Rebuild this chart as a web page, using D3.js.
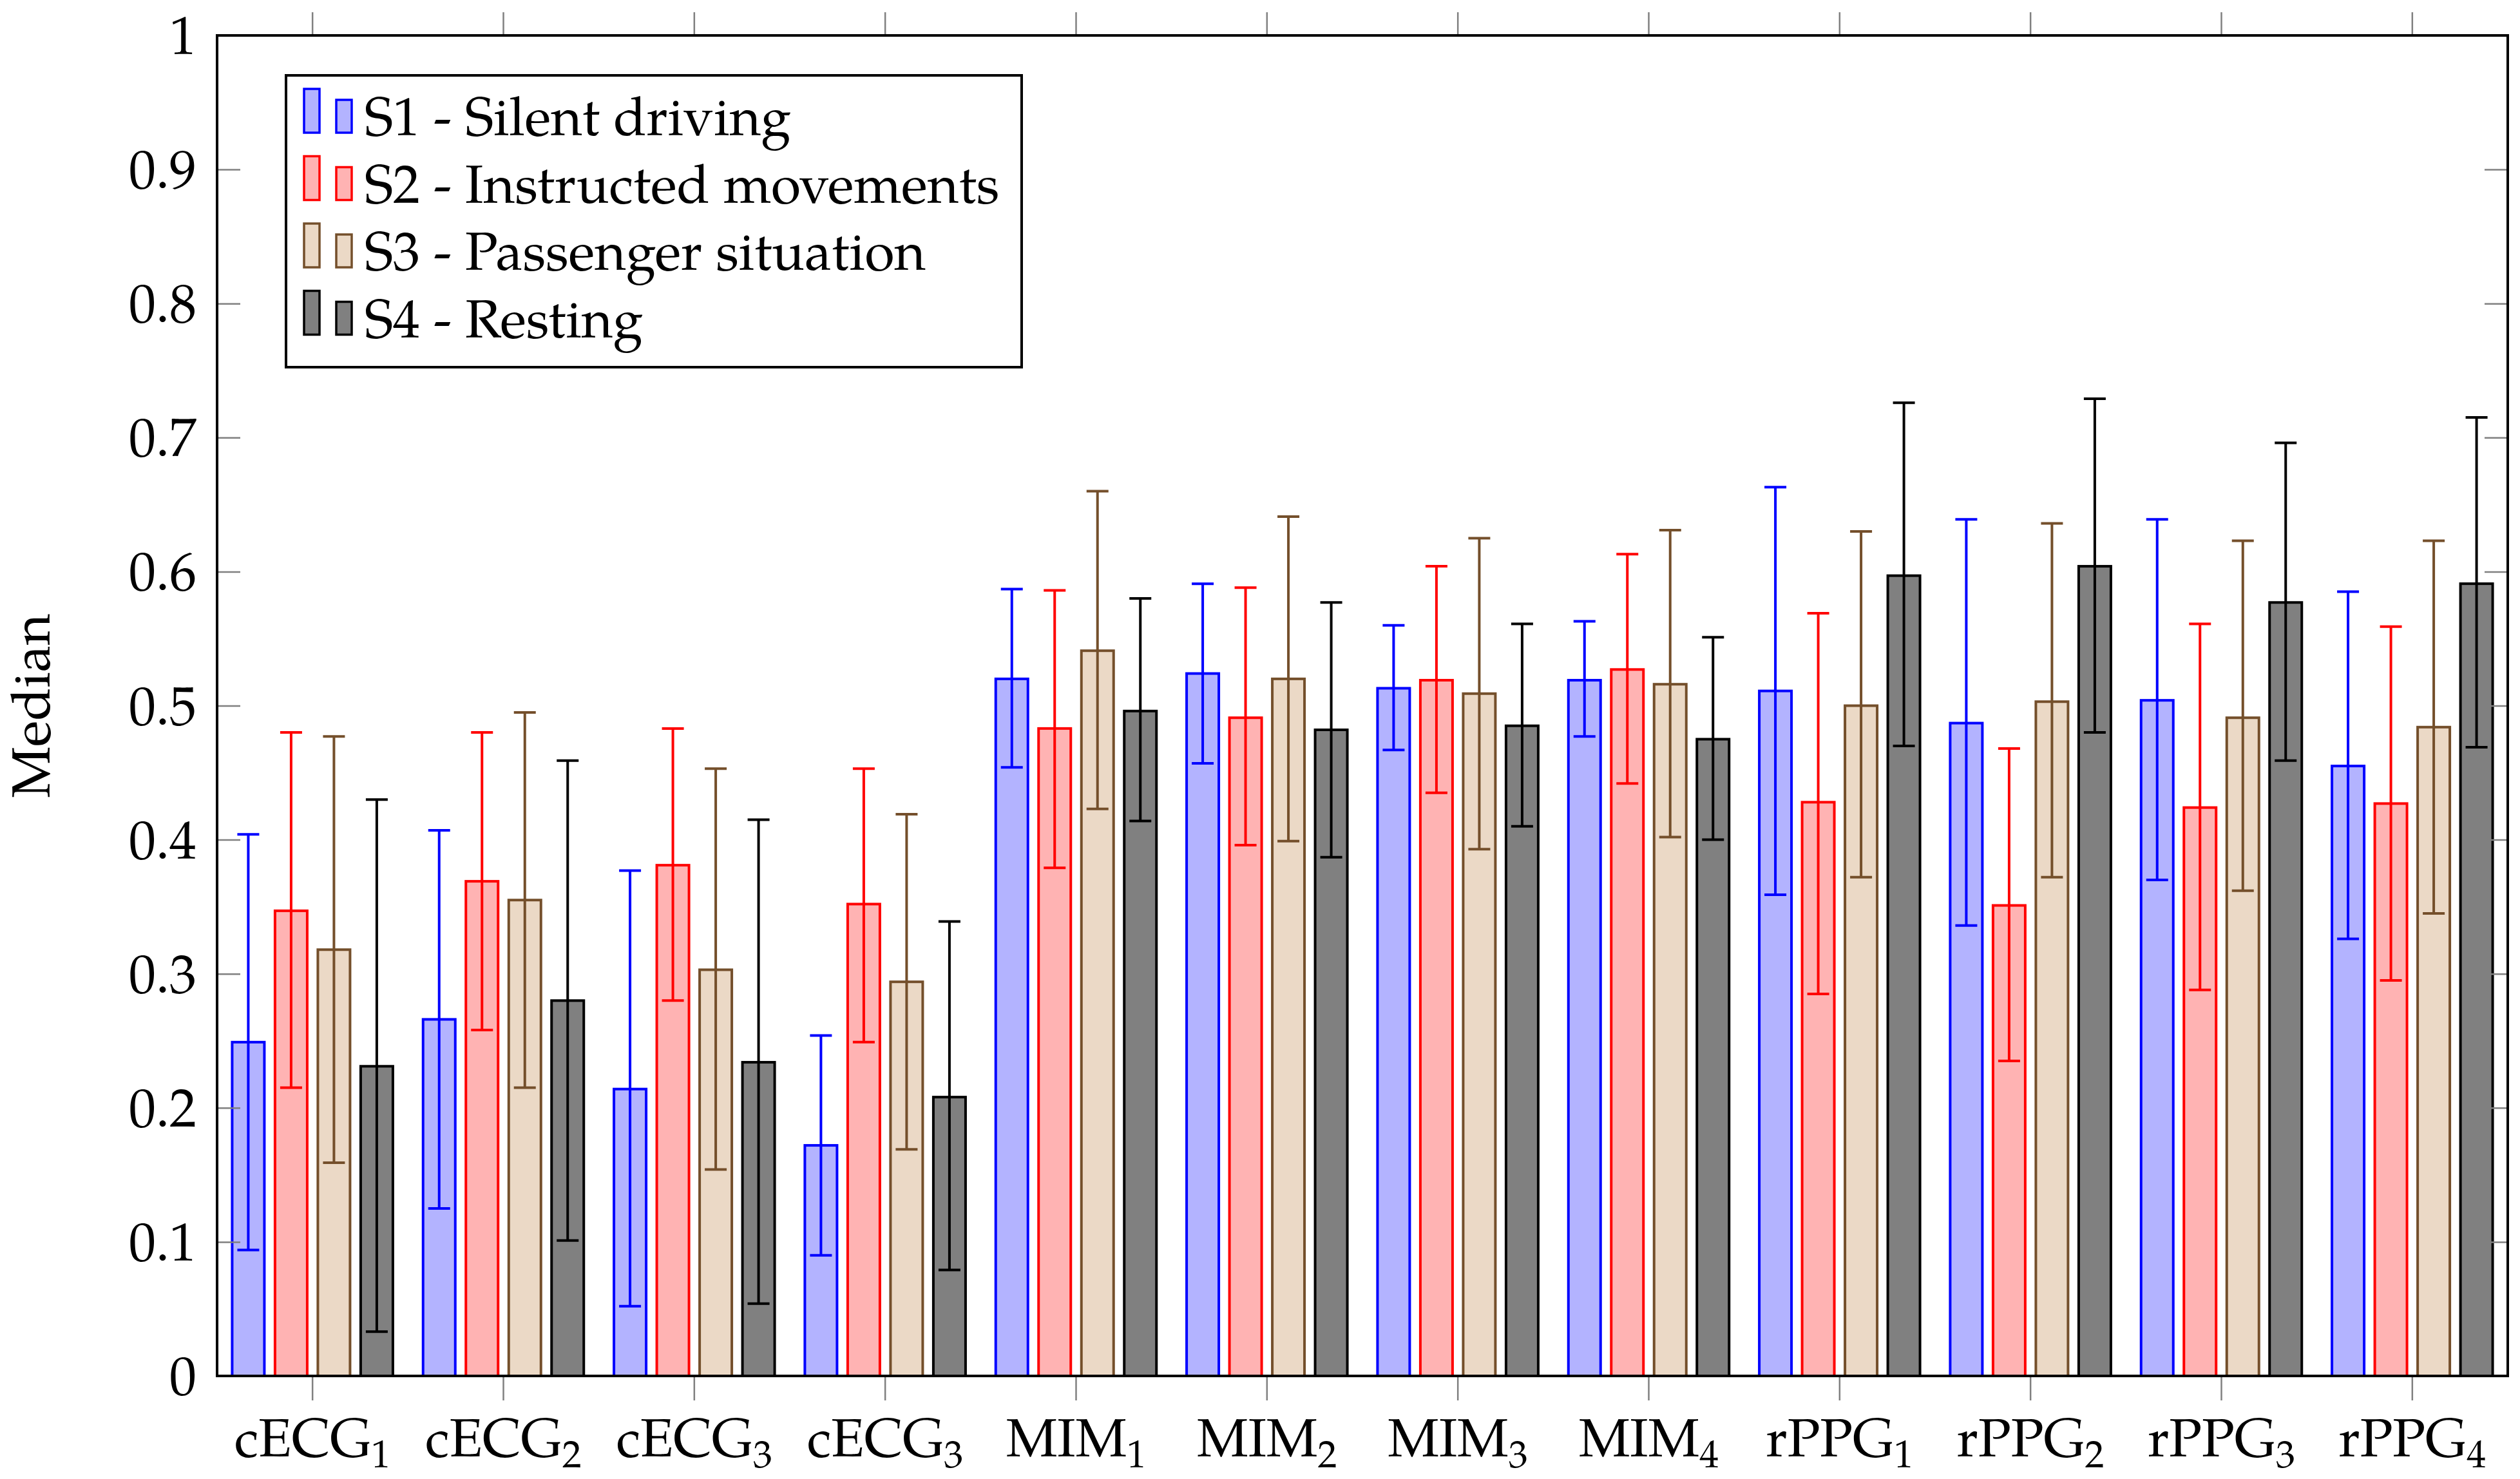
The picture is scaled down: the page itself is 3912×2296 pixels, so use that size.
<!DOCTYPE html>
<html>
<head>
<meta charset="utf-8">
<script src="https://cdn.jsdelivr.net/npm/d3@7"></script>
<style>
  body { margin: 0; background: #fff; }
</style>
</head>
<body>
<div id="content"></div>
<script>
// DATA
var catNames = ["cECG", "cECG", "cECG", "cECG", "MIM", "MIM", "MIM", "MIM", "rPPG", "rPPG", "rPPG", "rPPG"];
var catSubs = ["1", "2", "3", "3", "1", "2", "3", "4", "1", "2", "3", "4"];
var seriesNames = ["S1 - Silent driving", "S2 - Instructed movements", "S3 - Passenger situation", "S4 - Resting"];

// median per category, one array per scenario
var s1Median = [0.249, 0.266, 0.214, 0.172, 0.520, 0.524, 0.513, 0.519, 0.511, 0.487, 0.504, 0.455];
var s2Median = [0.347, 0.369, 0.381, 0.352, 0.483, 0.491, 0.519, 0.527, 0.428, 0.351, 0.424, 0.427];
var s3Median = [0.318, 0.355, 0.303, 0.294, 0.541, 0.520, 0.509, 0.516, 0.500, 0.503, 0.491, 0.484];
var s4Median = [0.231, 0.280, 0.234, 0.208, 0.496, 0.482, 0.485, 0.475, 0.597, 0.604, 0.577, 0.591];

// error bar ends
var s1Low  = [0.094, 0.125, 0.052, 0.090, 0.454, 0.457, 0.467, 0.477, 0.359, 0.336, 0.370, 0.326];
var s1High = [0.404, 0.407, 0.377, 0.254, 0.587, 0.591, 0.560, 0.563, 0.663, 0.639, 0.639, 0.585];
var s2Low  = [0.215, 0.258, 0.280, 0.249, 0.379, 0.396, 0.435, 0.442, 0.285, 0.235, 0.288, 0.295];
var s2High = [0.480, 0.480, 0.483, 0.453, 0.586, 0.588, 0.604, 0.613, 0.569, 0.468, 0.561, 0.559];
var s3Low  = [0.159, 0.215, 0.154, 0.169, 0.423, 0.399, 0.393, 0.402, 0.372, 0.372, 0.362, 0.345];
var s3High = [0.477, 0.495, 0.453, 0.419, 0.660, 0.641, 0.625, 0.631, 0.630, 0.636, 0.623, 0.623];
var s4Low  = [0.033, 0.101, 0.054, 0.079, 0.414, 0.387, 0.410, 0.400, 0.470, 0.480, 0.459, 0.469];
var s4High = [0.430, 0.459, 0.415, 0.339, 0.580, 0.577, 0.561, 0.551, 0.726, 0.729, 0.696, 0.715];

var yTicks = [0, 0.1, 0.2, 0.3, 0.4, 0.5, 0.6, 0.7, 0.8, 0.9, 1];
var yTickLabels = ["0", "0.1", "0.2", "0.3", "0.4", "0.5", "0.6", "0.7", "0.8", "0.9", "1"];

var medians = [s1Median, s2Median, s3Median, s4Median];
var lows = [s1Low, s2Low, s3Low, s4Low];
var highs = [s1High, s2High, s3High, s4High];

// STYLES
var fills = ["#b3b3ff", "#ffb3b3", "#ebd9c6", "#808080"];
var strokes = ["#0000ff", "#ff0000", "#744f2b", "#000000"];

// GLOBAL CONFIGS
var W = 3912;
var H = 2296;
// (window.top is read-only, so plot edges get their own names)
var pLeft = 337, pRight = 3893, pTop = 55, pBottom = 2136;
var fontFamily = "'TeX Gyre Pagella', 'Palatino Linotype', Palatino, 'Liberation Serif', serif";
var fontSize = 84;
var barW = 50;
var capW = 34;
var tickColor = "#808080";

var svg = d3.select("#content")
  .append("svg")
  .attr("width", W)
  .attr("height", H);

var idx = d3.range(catNames.length);
var x = d3.scaleBand().domain(idx).range([pLeft, pRight]).padding(0);
var xs = d3.scaleBand().domain(d3.range(4)).range([-133, 133]).padding(0);
var y = d3.scaleLinear().domain([0, 1]).range([pBottom, pTop]);

function cx(i, s) {
  return x(i) + x.bandwidth() / 2 + xs(s) + xs.bandwidth() / 2;
}

// Flatten to marks
var marks = [];
for (var s = 0; s < 4; s++) {
  for (var i = 0; i < idx.length; i++) {
    marks.push({ s: s, i: i, v: medians[s][i], lo: lows[s][i], hi: highs[s][i] });
  }
}

// Draw bars
svg.append("g")
  .selectAll("rect")
  .data(marks)
  .enter()
  .append("rect")
  .attr("x", function(d) { return cx(d.i, d.s) - barW / 2; })
  .attr("y", function(d) { return y(d.v); })
  .attr("width", barW)
  .attr("height", function(d) { return y(0) - y(d.v); })
  .attr("fill", function(d) { return fills[d.s]; })
  .attr("stroke", function(d) { return strokes[d.s]; })
  .attr("stroke-width", 4);

// Draw error bars
var eg = svg.append("g").selectAll("g")
  .data(marks)
  .enter()
  .append("g")
  .attr("stroke", function(d) { return strokes[d.s]; })
  .attr("stroke-width", 4);
eg.append("line")
  .attr("x1", function(d) { return cx(d.i, d.s); })
  .attr("x2", function(d) { return cx(d.i, d.s); })
  .attr("y1", function(d) { return y(d.lo); })
  .attr("y2", function(d) { return y(d.hi); });
eg.append("line")
  .attr("x1", function(d) { return cx(d.i, d.s) - capW / 2; })
  .attr("x2", function(d) { return cx(d.i, d.s) + capW / 2; })
  .attr("y1", function(d) { return y(d.hi); })
  .attr("y2", function(d) { return y(d.hi); });
eg.append("line")
  .attr("x1", function(d) { return cx(d.i, d.s) - capW / 2; })
  .attr("x2", function(d) { return cx(d.i, d.s) + capW / 2; })
  .attr("y1", function(d) { return y(d.lo); })
  .attr("y2", function(d) { return y(d.lo); });

// Axes (ticks only, frame drawn separately)
function styleAxis(g) {
  g.select(".domain").remove();
  g.selectAll(".tick line").attr("stroke", tickColor).attr("stroke-width", 2.5);
}

svg.append("g")
  .attr("transform", "translate(" + pLeft + ",0)")
  .call(d3.axisLeft(y).tickValues(yTicks).tickSize(-36).tickPadding(32)
    .tickFormat(function(d, i) { return yTickLabels[i]; }))
  .call(styleAxis)
  .selectAll("text")
  .attr("font-family", fontFamily)
  .attr("font-size", fontSize)
  .attr("fill", "#000")
  .attr("dy", "0.34em");

svg.append("g")
  .attr("transform", "translate(" + pRight + ",0)")
  .call(d3.axisRight(y).tickValues(yTicks).tickSize(-36).tickFormat(""))
  .call(styleAxis);

svg.append("g")
  .attr("transform", "translate(0," + pTop + ")")
  .call(d3.axisTop(x).tickSize(36).tickFormat(""))
  .call(styleAxis);

svg.append("g")
  .attr("transform", "translate(0," + pBottom + ")")
  .call(d3.axisBottom(x).tickSize(38).tickFormat(""))
  .call(styleAxis);

// x labels with subscripts
var xl = svg.append("g")
  .selectAll("text")
  .data(idx)
  .enter()
  .append("text")
  .attr("x", function(d) { return x(d) + x.bandwidth() / 2; })
  .attr("y", 2261)
  .attr("text-anchor", "middle")
  .attr("font-family", fontFamily)
  .attr("font-size", fontSize);
xl.append("tspan").text(function(d) { return catNames[d]; });
xl.append("tspan")
  .attr("dy", 17)
  .attr("font-size", 60)
  .text(function(d) { return catSubs[d]; });

// y label
svg.append("text")
  .text("Median")
  .attr("transform", "translate(77," + ((pTop + pBottom) / 2) + ") rotate(-90)")
  .attr("text-anchor", "middle")
  .attr("font-family", fontFamily)
  .attr("font-size", fontSize);

// Frame
svg.append("rect")
  .attr("x", pLeft)
  .attr("y", pTop)
  .attr("width", pRight - pLeft)
  .attr("height", pBottom - pTop)
  .attr("fill", "none")
  .attr("stroke", "#000")
  .attr("stroke-width", 4);

// Legend
var lg = svg.append("g");
lg.append("rect")
  .attr("x", 444)
  .attr("y", 117)
  .attr("width", 1586 - 444)
  .attr("height", 570 - 117)
  .attr("fill", "#fff")
  .attr("stroke", "#000")
  .attr("stroke-width", 4);
var rowH = 104.5;
var rows = lg.selectAll("g.row")
  .data(seriesNames)
  .enter()
  .append("g")
  .attr("class", "row")
  .attr("transform", function(d, i) { return "translate(0," + (i * rowH) + ")"; });
rows.append("rect")
  .attr("x", 472).attr("y", 138).attr("width", 24).attr("height", 68)
  .attr("fill", function(d, i) { return fills[i]; })
  .attr("stroke", function(d, i) { return strokes[i]; })
  .attr("stroke-width", 3.5);
rows.append("rect")
  .attr("x", 522).attr("y", 155).attr("width", 24).attr("height", 51)
  .attr("fill", function(d, i) { return fills[i]; })
  .attr("stroke", function(d, i) { return strokes[i]; })
  .attr("stroke-width", 3.5);
rows.append("text")
  .text(function(d) { return d; })
  .attr("x", 566)
  .attr("y", 210)
  .attr("font-family", fontFamily)
  .attr("font-size", fontSize);
</script>
</body>
</html>
